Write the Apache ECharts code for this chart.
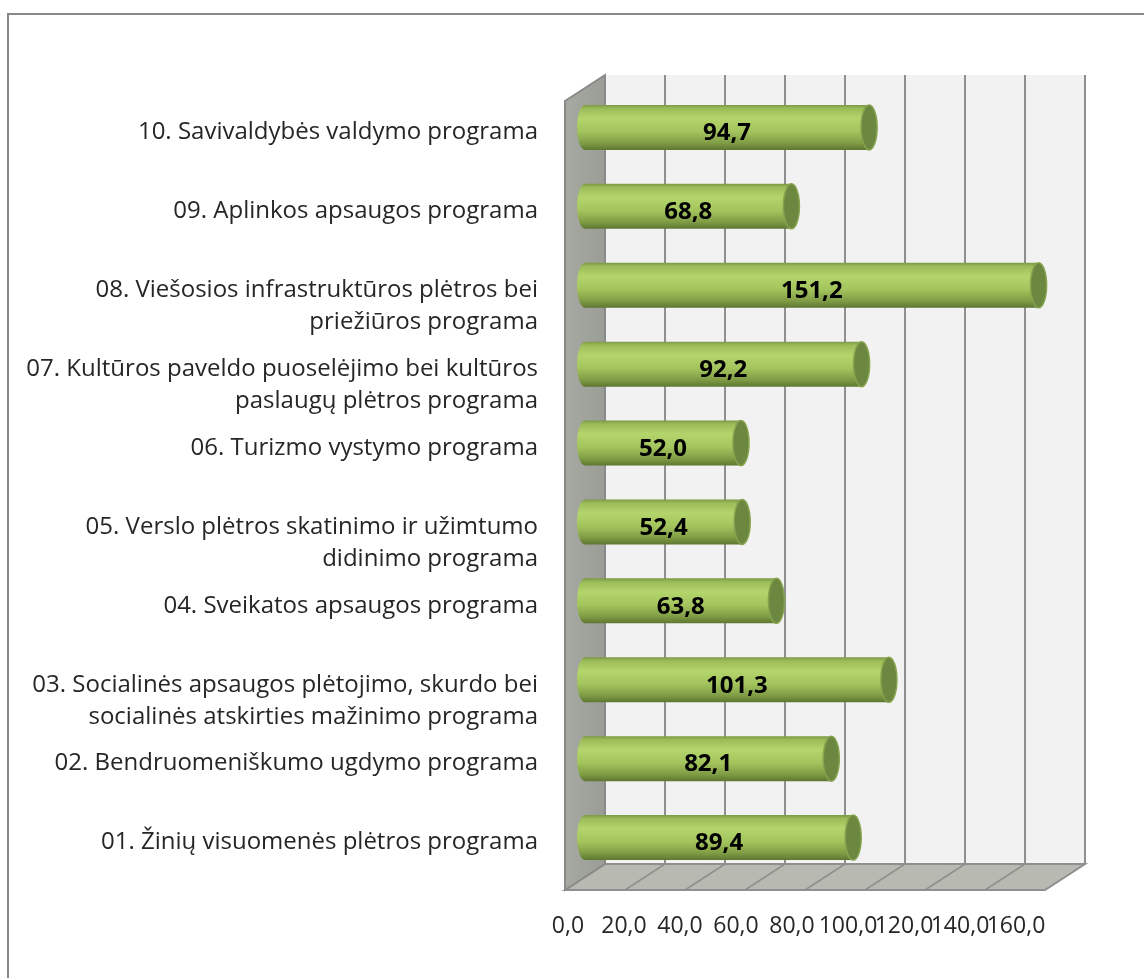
<!DOCTYPE html>
<html>
<head>
<meta charset="utf-8">
<script src="https://cdn.jsdelivr.net/npm/echarts@6/dist/echarts.min.js"></script>
<style>
html, body { margin: 0; padding: 0; background: #fff; }
#chart { width: 1144px; height: 978px; }
</style>
</head>
<body>
<div id="chart"></div>
<script>
// programos, nuo apačios į viršų
const categories = [
    '01. Žinių visuomenės plėtros programa',
    '02. Bendruomeniškumo ugdymo programa',
    '03. Socialinės apsaugos plėtojimo, skurdo bei\nsocialinės atskirties mažinimo programa',
    '04. Sveikatos apsaugos programa',
    '05. Verslo plėtros skatinimo ir užimtumo\ndidinimo programa',
    '06. Turizmo vystymo programa',
    '07. Kultūros paveldo puoselėjimo bei kultūros\npaslaugų plėtros programa',
    '08. Viešosios infrastruktūros plėtros bei\npriežiūros programa',
    '09. Aplinkos apsaugos programa',
    '10. Savivaldybės valdymo programa',
];
const values = [89.4, 82.1, 101.3, 63.8, 52.4, 52.0, 92.2, 151.2, 68.8, 94.7];
const tickValues = [0, 20, 40, 60, 80, 100, 120, 140, 160];
const axisMin = 0;
const axisMax = 160;
const axisStep = 20;

const DX = 20;   // 3D gylio poslinkis
const DY = 13;
const FONT = '"Open Sans"';

const fmt = (v) => v.toFixed(1).replace('.', ',');

const chart = echarts.init(document.getElementById('chart'));

// galinė siena, grindys ir kairė siena
const renderFrame = (params, api) => {
    const cs = params.coordSys;
    const L = cs.x, T = cs.y, R = cs.x + cs.width, B = cs.y + cs.height;
    const children = [];
    children.push({
        type: 'rect',
        shape: { x: L + DX, y: T - DY, width: R - L, height: B - T },
        style: { fill: '#f2f2f2' },
    });
    tickValues.forEach((v) => {
        if (v === axisMin) return;
        const x = api.coord([v, 0])[0];
        children.push({
            type: 'line',
            shape: { x1: x + DX, y1: T - DY, x2: x + DX, y2: B - DY },
            style: { stroke: '#8f8f8f', lineWidth: 2 },
        });
    });
    children.push({
        type: 'polygon',
        shape: { points: [[L - DX, B + DY], [L + DX, B - DY], [R + DX, B - DY], [R - DX, B + DY]] },
        style: { fill: '#b8b9b1', stroke: '#8f8f8f', lineWidth: 2 },
    });
    tickValues.forEach((v) => {
        if (v === axisMin || v === axisMax) return;
        const x = api.coord([v, 0])[0];
        children.push({
            type: 'line',
            shape: { x1: x - DX, y1: B + DY, x2: x + DX, y2: B - DY },
            style: { stroke: '#8f8f8f', lineWidth: 1.5 },
        });
    });
    children.push({
        type: 'polygon',
        shape: { points: [[L - DX, T + DY], [L + DX, T - DY], [L + DX, B - DY], [L - DX, B + DY]] },
        style: {
            fill: new echarts.graphic.LinearGradient(0, 0, 1, 0, [
                { offset: 0, color: '#a7a9a3' },
                { offset: 1, color: '#9a9c96' },
            ]),
            stroke: '#8a8a8a',
            lineWidth: 2,
        },
    });
    return { type: 'group', children };
};

// cilindriniai stulpeliai
const renderBar = (params, api) => {
    const v = api.value(0);
    const idx = api.value(1);
    const p0 = api.coord([0, idx]);
    const p1 = api.coord([v, idx]);
    const h = api.size([0, 1])[1] * 0.57;
    const cy = p0[1];
    const rx = 8;
    const grad = new echarts.graphic.LinearGradient(0, 0, 0, 1, [
        { offset: 0, color: '#7d9945' },
        { offset: 0.08, color: '#9cbc59' },
        { offset: 0.3, color: '#b4d46c' },
        { offset: 0.6, color: '#a3c35c' },
        { offset: 0.85, color: '#7f9c45' },
        { offset: 1, color: '#5e7630' },
    ]);
    return {
        type: 'group',
        children: [
            { type: 'ellipse', shape: { cx: p0[0], cy, rx, ry: h / 2 }, style: { fill: grad } },
            { type: 'rect', shape: { x: p0[0], y: cy - h / 2, width: p1[0] - p0[0], height: h }, style: { fill: grad } },
            {
                type: 'ellipse',
                shape: { cx: p1[0], cy, rx, ry: h / 2 },
                style: { fill: '#6c8740', stroke: '#86a34d', lineWidth: 1.5 },
            },
            {
                type: 'text',
                x: (p0[0] + p1[0]) / 2,
                y: cy + 6,
                style: {
                    text: fmt(v),
                    fill: '#000',
                    font: 'bold 24px ' + FONT,
                    align: 'center',
                    verticalAlign: 'middle',
                },
            },
        ],
    };
};

const option = {
    animation: false,
    backgroundColor: '#fff',
    graphic: [
        {
            type: 'rect',
            shape: { x: 8, y: 14, width: 1300, height: 1100 },
            style: { fill: 'none', stroke: '#878787', lineWidth: 2 },
            silent: true,
        },
    ],
    grid: [
        { left: 585, width: 480, top: 88, height: 789 },
        { left: 568, width: 448, top: 77, height: 789 },
    ],
    xAxis: [
        { gridIndex: 0, type: 'value', min: axisMin, max: axisMax, interval: axisStep, show: false },
        {
            // ašies žymės (Excel jas suglaudžia, todėl atskira ašis)
            gridIndex: 1,
            type: 'category',
            data: tickValues.map(fmt),
            boundaryGap: false,
            axisLine: { show: false },
            axisTick: { show: false },
            splitLine: { show: false },
            axisLabel: {
                interval: 0,
                margin: 49,
                fontFamily: FONT,
                fontSize: 23,
                color: '#262626',
            },
        },
    ],
    yAxis: [
        { gridIndex: 0, type: 'category', data: categories, show: false },
        {
            gridIndex: 1,
            type: 'category',
            data: categories,
            axisLine: { show: false },
            axisTick: { show: false },
            axisLabel: {
                margin: 30,
                fontFamily: FONT,
                fontSize: 24,
                lineHeight: 32,
                color: '#262626',
                align: 'right',
                verticalAlign: 'top',
                interval: 0,
            },
        },
    ],
    series: [
        {
            type: 'custom',
            xAxisIndex: 0,
            yAxisIndex: 0,
            data: [[0, 0]],
            renderItem: renderFrame,
            silent: true,
            z: 1,
        },
        {
            type: 'custom',
            xAxisIndex: 0,
            yAxisIndex: 0,
            data: values.map((v, i) => [v, i]),
            encode: { x: 0, y: 1 },
            renderItem: renderBar,
            z: 2,
        },
    ],
};

chart.setOption(option);
</script>
</body>
</html>
